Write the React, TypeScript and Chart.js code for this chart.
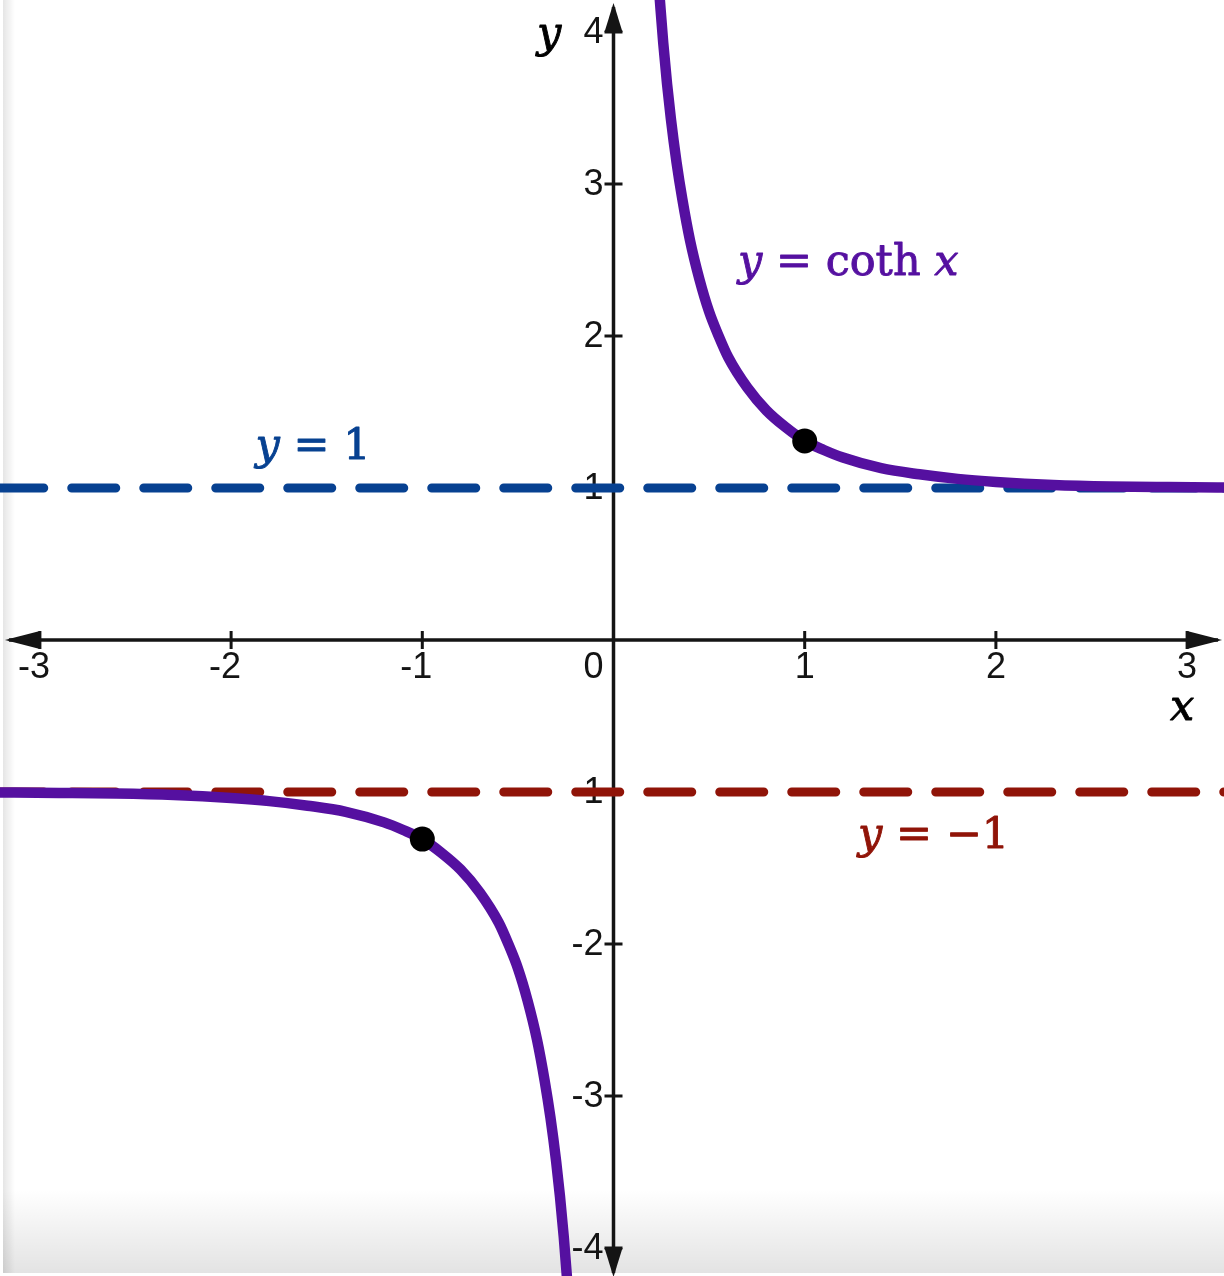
import React, { useEffect, useRef } from "react";
import { Chart, registerables } from "chart.js";

Chart.register(...registerables);

// Upper branch of y = coth x
const upperX = [0.24, 0.26, 0.28, 0.30, 0.33, 0.36, 0.40, 0.45, 0.50, 0.55, 0.60, 0.70, 0.80, 0.90, 1.00, 1.10, 1.20, 1.40, 1.60, 1.80, 2.00, 2.30, 2.60, 2.90, 3.25];
const upperY = [4.25, 3.93, 3.66, 3.43, 3.14, 2.90, 2.63, 2.37, 2.16, 2.00, 1.86, 1.66, 1.51, 1.40, 1.31, 1.25, 1.20, 1.13, 1.09, 1.06, 1.04, 1.02, 1.01, 1.006, 1.003];
// Lower branch
const lowerX = [-3.25, -2.90, -2.60, -2.30, -2.00, -1.80, -1.60, -1.40, -1.20, -1.10, -1.00, -0.90, -0.80, -0.70, -0.60, -0.55, -0.50, -0.45, -0.40, -0.36, -0.33, -0.30, -0.28, -0.26, -0.24];
const lowerY = [-1.003, -1.006, -1.01, -1.02, -1.04, -1.06, -1.09, -1.13, -1.20, -1.25, -1.31, -1.40, -1.51, -1.66, -1.86, -2.00, -2.16, -2.37, -2.63, -2.90, -3.14, -3.43, -3.66, -3.93, -4.25];
// Marked points
const markerX = [1, -1];
const markerY = [1.31, -1.31];
// Asymptotes
const asymptoteUpper = 1;
const asymptoteLower = -1;
const asymptoteSpan = [-3.21, 3.2];
// Axis ticks
const xTicks = [-3, -2, -1, 1, 2, 3];
const xTickLabels = ["-3", "-2", "-1", "1", "2", "3"];
const yTicks = [-4, -3, -2, -1, 1, 2, 3, 4];
const yTickLabels = ["-4", "-3", "-2", "-1", "1", "2", "3", "4"];
const originLabel = "0";

const PURPLE = "#5510a0";
const BLUE = "#074191";
const RED = "#901408";
const AXIS = "#141414";

type Run = [string, boolean];

function drawRuns(ctx: CanvasRenderingContext2D, runs: Run[], x: number, y: number, size: number, color: string) {
  let cx = x;
  ctx.save();
  ctx.fillStyle = color;
  ctx.strokeStyle = color;
  ctx.lineWidth = 0.9;
  ctx.lineJoin = "round";
  ctx.textAlign = "left";
  ctx.textBaseline = "alphabetic";
  for (const [t, it] of runs) {
    ctx.font = `${it ? "italic " : ""}${size}px "DejaVu Serif", serif`;
    ctx.fillText(t, cx, y);
    ctx.strokeText(t, cx, y);
    cx += ctx.measureText(t).width;
  }
  ctx.restore();
}

const decorPlugin = {
  id: "decor",
  beforeDraw(chart: any) {
    const ctx = chart.ctx as CanvasRenderingContext2D;
    const W = chart.width, H = chart.height;
    ctx.save();
    ctx.fillStyle = "#ffffff";
    ctx.fillRect(0, 0, W, H);
    let g = ctx.createLinearGradient(3, 0, 15, 0);
    g.addColorStop(0, "rgba(0,0,0,0.10)");
    g.addColorStop(1, "rgba(0,0,0,0)");
    ctx.fillStyle = g;
    ctx.fillRect(3, 0, 12, H - 3);
    g = ctx.createLinearGradient(0, 1190, 0, 1273);
    g.addColorStop(0, "rgba(0,0,0,0)");
    g.addColorStop(1, "rgba(0,0,0,0.11)");
    ctx.fillStyle = g;
    ctx.fillRect(3, 1190, W - 3, 83);
    ctx.restore();
  },
  beforeDatasetsDraw(chart: any) {
    const ctx = chart.ctx as CanvasRenderingContext2D;
    const xs = chart.scales.x, ys = chart.scales.y;
    const x0 = xs.getPixelForValue(0);
    const y0 = ys.getPixelForValue(0);
    const xL = xs.getPixelForValue(xTicks[0]);
    const xR = xs.getPixelForValue(xTicks[xTicks.length - 1]);
    const yT = ys.getPixelForValue(yTicks[yTicks.length - 1]);
    const yB = ys.getPixelForValue(yTicks[0]);
    const AL = 35, AW = 9, AVL = 29;
    ctx.save();
    ctx.strokeStyle = AXIS;
    ctx.fillStyle = AXIS;
    ctx.lineWidth = 3.5;
    ctx.beginPath();
    ctx.moveTo(xL - AL + 4, y0);
    ctx.lineTo(xR + AL - 4, y0);
    ctx.moveTo(x0, yT - AVL + 4);
    ctx.lineTo(x0, yB + AVL - 4);
    ctx.stroke();
    // arrowheads
    const tri = (a: number[], b: number[], c: number[]) => {
      ctx.beginPath();
      ctx.moveTo(a[0], a[1]);
      ctx.lineTo(b[0], b[1]);
      ctx.lineTo(c[0], c[1]);
      ctx.closePath();
      ctx.fill();
    };
    tri([xL - AL, y0], [xL, y0 - AW], [xL, y0 + AW]);
    tri([xR + AL, y0], [xR, y0 - AW], [xR, y0 + AW]);
    tri([x0, yT - AVL], [x0 - AW, yT], [x0 + AW, yT]);
    tri([x0, yB + AVL], [x0 - AW, yB], [x0 + AW, yB]);
    // ticks
    ctx.lineWidth = 3;
    ctx.beginPath();
    for (const t of xTicks) {
      const px = xs.getPixelForValue(t);
      ctx.moveTo(px, y0 - 9);
      ctx.lineTo(px, y0 + 9);
    }
    for (const t of yTicks) {
      const py = ys.getPixelForValue(t);
      ctx.moveTo(x0 - 9, py);
      ctx.lineTo(x0 + 9, py);
    }
    ctx.stroke();
    // tick labels
    ctx.font = '36px "Liberation Sans", Arial, sans-serif';
    ctx.textBaseline = "alphabetic";
    ctx.textAlign = "right";
    xTicks.forEach((t, i) => {
      const px = xs.getPixelForValue(t);
      const lbl = xTickLabels[i];
      const digitW = ctx.measureText(lbl.replace("-", "")).width;
      ctx.fillText(lbl, px + digitW / 2, y0 + 38);
    });
    ctx.fillText(originLabel, x0 - 10, y0 + 38);
    yTicks.forEach((t, i) => {
      const py = ys.getPixelForValue(t);
      ctx.fillText(yTickLabels[i], x0 - 10, py + 11);
    });
    ctx.restore();

    // axis names
    drawRuns(ctx, [["y", true]], xs.getPixelForValue(-0.4), ys.getPixelForValue(3.9), 43, "#000000");
    drawRuns(ctx, [["x", true]], xs.getPixelForValue(2.91), ys.getPixelForValue(-0.526), 43, "#000000");
  },
  afterDatasetsDraw(chart: any) {
    const ctx = chart.ctx as CanvasRenderingContext2D;
    const xs = chart.scales.x, ys = chart.scales.y;
    drawRuns(ctx, [["y", true], [" = coth ", false], ["x", true]], xs.getPixelForValue(0.651), ys.getPixelForValue(2.401), 43, PURPLE);
    drawRuns(ctx, [["y", true], [" = 1", false]], xs.getPixelForValue(-1.872), ys.getPixelForValue(1.191), 43, BLUE);
    drawRuns(ctx, [["y", true], [" = \u22121", false]], xs.getPixelForValue(1.279), ys.getPixelForValue(-1.368), 43, RED);
  },
};

export default function App() {
  const ref = useRef<HTMLCanvasElement | null>(null);
  useEffect(() => {
    document.body.style.margin = "0";
    const canvas = ref.current;
    if (!canvas) return;
    const pts = (xa: number[], ya: number[]) => xa.map((x, i) => ({ x, y: ya[i] }));
    const chart = new Chart(canvas, {
      type: "scatter",
      data: {
        datasets: [
          {
            label: "points",
            data: pts(markerX, markerY),
            pointRadius: 12.5,
            pointBackgroundColor: "#000000",
            pointBorderWidth: 0,
            showLine: false,
            order: 0,
          } as any,
          {
            label: "coth upper",
            data: pts(upperX, upperY),
            showLine: true,
            borderColor: PURPLE,
            borderWidth: 10.5,
            pointRadius: 0,
            cubicInterpolationMode: "monotone",
            order: 1,
          },
          {
            label: "coth lower",
            data: pts(lowerX, lowerY),
            showLine: true,
            borderColor: PURPLE,
            borderWidth: 10.5,
            pointRadius: 0,
            cubicInterpolationMode: "monotone",
            order: 1,
          },
          {
            label: "y = 1",
            data: asymptoteSpan.map((x) => ({ x, y: asymptoteUpper })),
            showLine: true,
            borderColor: BLUE,
            borderWidth: 9,
            borderDash: [44, 28],
            borderCapStyle: "round",
            pointRadius: 0,
            order: 2,
          },
          {
            label: "y = -1",
            data: asymptoteSpan.map((x) => ({ x, y: asymptoteLower })),
            showLine: true,
            borderColor: RED,
            borderWidth: 9,
            borderDash: [44, 28],
            borderCapStyle: "round",
            pointRadius: 0,
            order: 2,
          },
        ],
      },
      options: {
        responsive: false,
        animation: false,
        devicePixelRatio: 1,
        layout: { padding: 0, autoPadding: false },
        plugins: { legend: { display: false }, tooltip: { enabled: false } },
        events: [],
        scales: {
          x: { type: "linear", min: -3.2087, max: 3.193, display: false },
          y: { type: "linear", min: -4.1842, max: 4.2105, display: false },
        },
      },
      plugins: [decorPlugin],
    });
    return () => chart.destroy();
  }, []);
  return (
    <div style={{ position: "absolute", left: 0, top: 0, width: 1224, height: 1276 }}>
      <canvas ref={ref} width={1224} height={1276} style={{ display: "block" }} />
    </div>
  );
}
